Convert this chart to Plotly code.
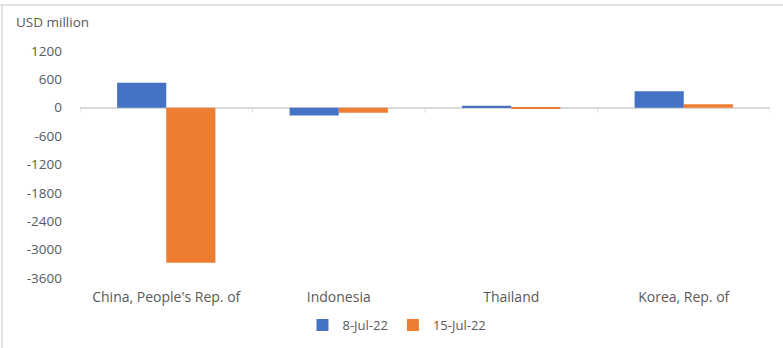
import plotly.graph_objects as go

categories = ["China, People's Rep. of", "Indonesia", "Thailand", "Korea, Rep. of"]
series_names = ["8-Jul-22", "15-Jul-22"]
jul8 = [530, -165, 40, 350]
jul15 = [-3280, -105, -25, 75]
y_ticks = [1200, 600, 0, -600, -1200, -1800, -2400, -3000, -3600]

colors = ["#4472C4", "#ED7D31"]
font_color = "#595959"
font_family = "Open Sans, Liberation Sans, Arial, sans-serif"

fig = go.Figure()
for name, vals, c in zip(series_names, [jul8, jul15], colors):
    fig.add_trace(go.Bar(x=categories, y=vals, name=name,
                         marker=dict(color=c, line=dict(width=0))))

shapes = []
for i in range(len(categories) + 1):
    shapes.append(dict(type="line", xref="x", yref="y", x0=i - 0.5, x1=i - 0.5,
                       ysizemode="pixel", yanchor=0, y0=0, y1=-5,
                       line=dict(color="#D9D9D9", width=1)))
# outer border (top and left)
shapes.append(dict(type="line", xref="paper", yref="paper", x0=-80/690, x1=1.02,
                   y0=1 + 46/227, y1=1 + 46/227, line=dict(color="#D9D9D9", width=1.5)))
shapes.append(dict(type="line", xref="paper", yref="paper", x0=-78/690, x1=-78/690,
                   y0=-70/227, y1=1 + 46/227, line=dict(color="#D9D9D9", width=1.5)))

fig.update_layout(
    width=783, height=348,
    margin=dict(l=80, r=13, t=51, b=70, autoexpand=False),
    paper_bgcolor="white", plot_bgcolor="white",
    font=dict(family=font_family, size=13, color=font_color),
    barmode="group", bargap=0.43, bargroupgap=0,
    showlegend=True,
    legend=dict(orientation="h", xref="container", yref="container",
                x=0.507, y=0.066, xanchor="center", yanchor="middle",
                font=dict(size=13, color=font_color), traceorder="normal",
                itemwidth=30),
    shapes=shapes,
    annotations=[dict(text="USD million", xref="paper", yref="paper",
                      x=-66/690, y=1 + 29/227, xanchor="left", yanchor="middle",
                      showarrow=False, font=dict(size=13.5, color=font_color))],
)
fig.update_xaxes(showgrid=False, showline=False, zeroline=False, ticks="",
                 tickfont=dict(size=14, color=font_color), ticklabelstandoff=9,
                 range=[-0.5, 3.5], automargin=False)
fig.update_yaxes(range=[-3600, 1200], tickvals=y_ticks, ticktext=[str(v) for v in y_ticks],
                 showgrid=False, showline=False, zeroline=True, zerolinecolor="#D9D9D9",
                 zerolinewidth=1.5, ticks="", ticklabelstandoff=17, automargin=False,
                 tickfont=dict(size=13.5, color=font_color))

fig.write_html("out.html")
